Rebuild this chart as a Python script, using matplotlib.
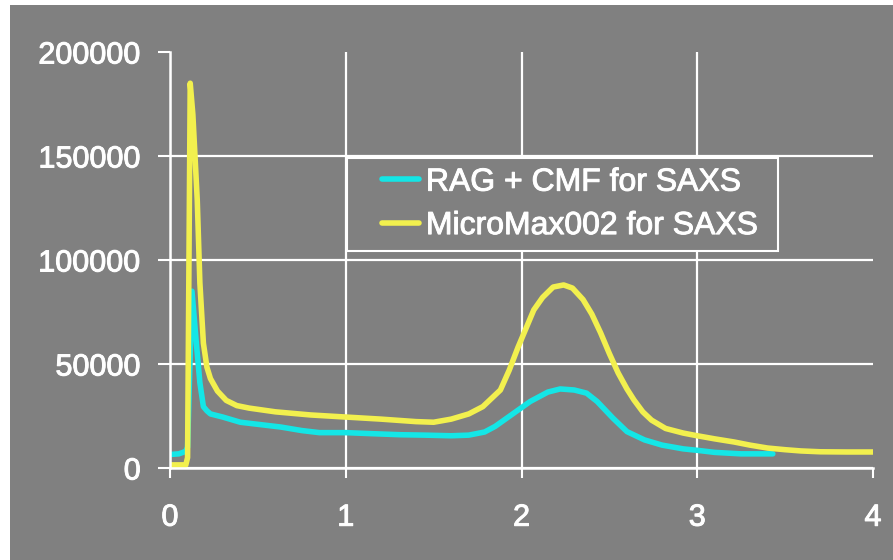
import matplotlib
matplotlib.use("Agg")
import matplotlib.pyplot as plt
import matplotlib.patheffects as pe
from matplotlib.patches import Rectangle
from matplotlib.legend_handler import HandlerLine2D
from matplotlib.lines import Line2D

# Scattering intensity profiles
rag_x = [0.0, 0.05, 0.09, 0.10, 0.125, 0.15, 0.17, 0.19, 0.21, 0.23, 0.30, 0.40, 0.50,
         0.63, 0.75, 0.85, 1.00, 1.15, 1.31, 1.45, 1.60, 1.70, 1.79, 1.85, 1.95, 2.05,
         2.15, 2.22, 2.30, 2.37, 2.43, 2.52, 2.60, 2.70, 2.80, 2.92, 3.00, 3.10, 3.25, 3.43]
rag_y = [6500, 6800, 8000, 10000, 85000, 60000, 41000, 29500, 27500, 26000, 24500, 22000, 21000,
         19700, 18000, 17000, 17000, 16500, 16000, 15800, 15500, 15800, 17300, 20000, 26000, 32000,
         36500, 38000, 37500, 36000, 32000, 24000, 17500, 13500, 11000, 9200, 8500, 7500, 6800, 6800]

mm_x = [0.0, 0.09, 0.10, 0.115, 0.13, 0.155, 0.17, 0.19, 0.21, 0.23, 0.27, 0.32, 0.38, 0.45,
        0.60, 0.80, 1.00, 1.20, 1.40, 1.50, 1.60, 1.70, 1.78, 1.88, 1.93, 1.98, 2.03, 2.07,
        2.12, 2.18, 2.24, 2.29, 2.35, 2.40, 2.45, 2.50, 2.55, 2.60, 2.64, 2.69, 2.74, 2.82,
        2.92, 3.00, 3.10, 3.21, 3.30, 3.40, 3.50, 3.59, 3.70, 3.85, 4.00]
mm_y = [1500, 1500, 5000, 185000, 170000, 129000, 89000, 60000, 48500, 43000, 37000, 32500, 30000, 28800,
        27000, 25500, 24500, 23500, 22300, 22000, 23500, 26000, 29500, 37500, 47000, 58000, 68000, 76000,
        82000, 87000, 88000, 86500, 81000, 74000, 65000, 55000, 45700, 38000, 32700, 27000, 23000, 19000,
        16800, 15500, 14000, 12500, 11000, 9600, 8800, 8200, 7800, 7700, 7700]

labels = ["RAG + CMF for SAXS", "MicroMax002 for SAXS"]
x_ticks = [0, 1, 2, 3, 4]
y_ticks = [0, 50000, 100000, 150000, 200000]

GRAY = "#808080"
CYAN = "#14e6e6"
YELLOW = "#f2f04e"

plt.rcParams["font.family"] = ["Liberation Sans", "DejaVu Sans"]

W, H = 893, 560
fig = plt.figure(figsize=(W / 100, H / 100), dpi=100)
fig.patch.set_facecolor("white")
fig.add_artist(Rectangle((10 / W, 0), 1 - 10 / W, 1 - 5 / H, transform=fig.transFigure,
                         facecolor=GRAY, edgecolor="none", zorder=-10))

ax = fig.add_axes([170 / W, (H - 468) / H, 703 / W, 416 / H])
ax.set_facecolor(GRAY)

ax.plot(rag_x, rag_y, color=CYAN, lw=4, solid_joinstyle="round", solid_capstyle="round",
        label=labels[0])
ax.plot(mm_x, mm_y, color=YELLOW, lw=4, solid_joinstyle="round", solid_capstyle="round",
        label=labels[1])

ax.set_xlim(0, 4)
ax.set_ylim(0, 200000)
ax.set_xticks(x_ticks)
ax.set_yticks(y_ticks)
ax.set_xticklabels([str(v) for v in x_ticks])
ax.set_yticklabels([str(v) for v in y_ticks])

ax.grid(True, color="white", lw=1.6)
ax.set_axisbelow(True)
ax.xaxis.get_gridlines()[-1].set_visible(False)
ax.yaxis.get_gridlines()[-1].set_visible(False)

for side in ("top", "right"):
    ax.spines[side].set_visible(False)
for side in ("left", "bottom"):
    ax.spines[side].set_color("white")
    ax.spines[side].set_linewidth(1.8)

ax.tick_params(axis="x", colors="white", labelsize=22, length=7, width=1.5, pad=18)
ax.tick_params(axis="y", colors="white", labelsize=22, length=9, width=1.5, pad=12)

heavy = [pe.withStroke(linewidth=0.7, foreground="white")]
for lbl in ax.get_xticklabels() + ax.get_yticklabels():
    lbl.set_path_effects(heavy)


class InsetLine(HandlerLine2D):
    """Legend line drawn only over the right part of the handle box."""

    def __init__(self, frac, **kw):
        super().__init__(**kw)
        self.frac = frac

    def create_artists(self, legend, orig_handle, xdescent, ydescent, width, height, fontsize, trans):
        arts = super().create_artists(legend, orig_handle, xdescent, ydescent, width, height, fontsize, trans)
        for a in arts:
            xd = list(a.get_xdata())
            if len(xd) >= 2:
                x0, x1 = xd[0], xd[-1]
                a.set_xdata([x0 + self.frac * (x1 - x0), x1])
                a.set_ydata([a.get_ydata()[0]] * 2)
        return arts


leg = ax.legend(loc="upper left", bbox_to_anchor=(0.2518, 0.529, 0.613, 0.216), mode="expand",
                fontsize=23, frameon=True, fancybox=False, borderpad=0.3, handlelength=1.95,
                handletextpad=0.22, labelspacing=0.42, borderaxespad=0,
                handler_map={Line2D: InsetLine(0.4)})
leg.get_frame().set_facecolor(GRAY)
leg.get_frame().set_edgecolor("white")
leg.get_frame().set_linewidth(1.5)
leg.get_frame().set_alpha(1)
for t in leg.get_texts():
    t.set_color("white")
    t.set_path_effects(heavy)

fig.savefig("out.png", dpi=100, facecolor=fig.get_facecolor())
